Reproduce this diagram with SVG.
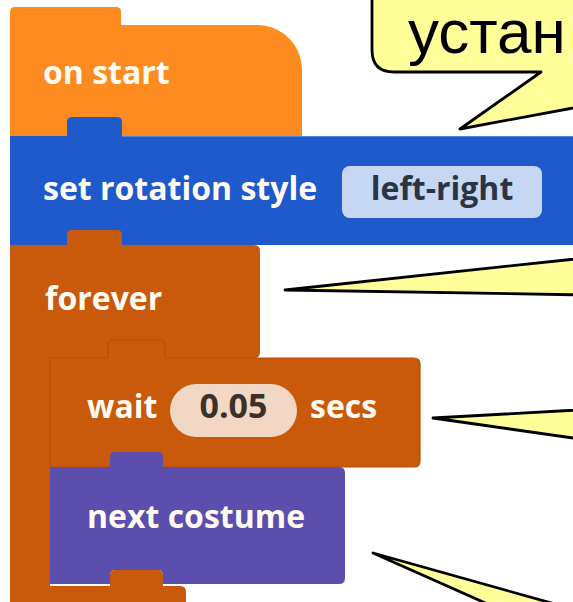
<svg xmlns="http://www.w3.org/2000/svg" width="573" height="602" viewBox="0 0 573 602">
<style>
.lbl{font-family:"Open Sans","Noto Sans","DejaVu Sans",sans-serif;font-weight:700;font-size:32px;fill:#FFFBF2}
.val{font-family:"Open Sans","Noto Sans","DejaVu Sans",sans-serif;font-weight:700;font-size:32px}
.call{fill:#FFFF99;stroke:#000;stroke-width:2.8;stroke-linejoin:round}
.ctext{font-family:"Liberation Sans",Arial,sans-serif;font-size:62px;fill:#000}
</style>
<rect x="0" y="0" width="573" height="602" fill="#FFFFFF"/>
<g id="on-start">
<path d="M10,12 Q10,7 15,7 L116,7 Q121,7 121,12 L121,25 L257,25 C282,25 302,45 302,70 L302,137 L10,137 Z" fill="#FD8B1F"/>
<text class="lbl" x="43" y="84">on start</text>
</g>
<g id="set-rotation-style">
<path d="M10,136 L67,136 L67,122 Q67,117 72,117 L117,117 Q122,117 122,122 L122,136 L600,136 L600,245 L10,245 Z" fill="#1E5ACB"/>
<line x1="122" y1="136.5" x2="600" y2="136.5" stroke="#4F82DA" stroke-width="1"/>
<text class="lbl" x="43" y="200">set rotation style</text>
<rect x="342" y="166" width="200" height="52" rx="8" fill="#C5D7F2"/>
<text class="val" x="442" y="200" text-anchor="middle" fill="#2B3444">left-right</text>
</g>
<g id="forever">
<path d="M10,245 L67,245 L67,235 Q67,230 72,230 L117,230 Q122,230 122,235 L122,245 L254,245 Q260,245 260,251 L260,352 Q260,358 254,358 L50,358 L50,586 L110,586 L110,575 Q110,570 115,570 L158,570 Q163,570 163,575 L163,586 L180,586 Q186,586 186,592 L186,610 L10,610 Z" fill="#C9590B"/>
<text class="lbl" x="45" y="310">forever</text>
</g>
<g id="wait">
<path d="M50,358 L108,358 L108,345 Q108,340 113,340 L160,340 Q165,340 165,345 L165,358 L414,358 Q420,358 420,364 L420,461 Q420,467 414,467 L50,467 Z" fill="#C9590B" stroke="#B44F08" stroke-width="1.2"/>
<text class="lbl" x="87" y="418">wait</text>
<rect x="170" y="384" width="127" height="53" rx="26.5" fill="#F2D8C4"/>
<text class="val" x="233.5" y="418" text-anchor="middle" fill="#3B302A" style="font-size:34px">0.05</text>
<text class="lbl" x="310" y="418">secs</text>
</g>
<g id="next-costume">
<path d="M50,467 L110,467 L110,457 Q110,452 115,452 L158,452 Q163,452 163,457 L163,467 L339,467 Q345,467 345,473 L345,578 Q345,584 339,584 L163,584 L163,575 Q163,570 158,570 L115,570 Q110,570 110,575 L110,584 L50,584 Z" fill="#5C4EAC"/>
<text class="lbl" x="87" y="528">next costume</text>
</g>
<g id="callouts">
<path class="call" d="M372,-20 L372,50 Q372,72 394,72 L541,72 L460,129 L766,72 L800,72 L800,-20 Z"/>
<text class="ctext" x="408" y="53">устан</text>
<polygon class="call" points="285,290 650,251 650,296"/>
<polygon class="call" points="433,418 650,406 650,449"/>
<polygon class="call" points="373,553 591,650 719,650"/>
</g>
</svg>
